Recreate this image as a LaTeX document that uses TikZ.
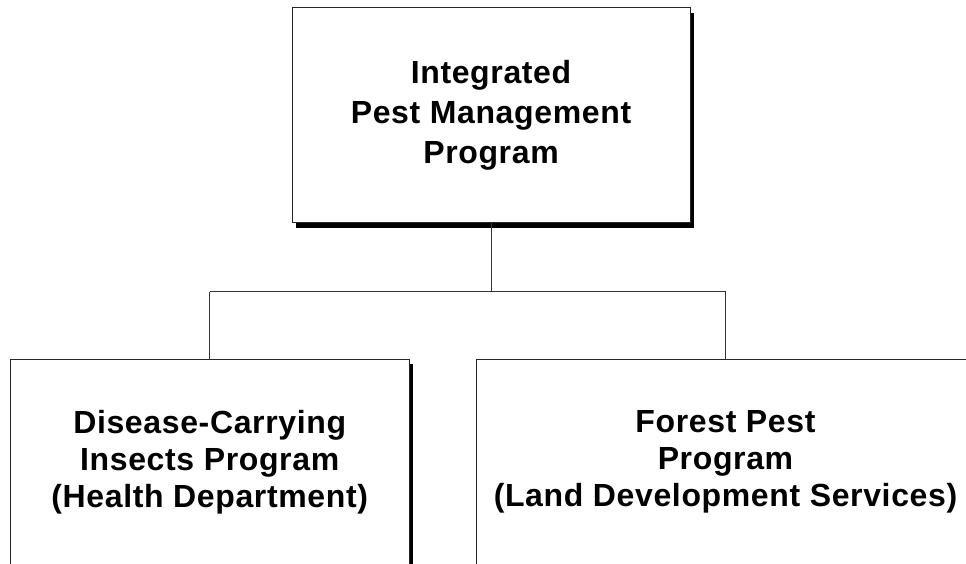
\documentclass[tikz,border=0pt]{standalone}
\usepackage{fontspec}
\newfontfamily\boxfont{Liberation Sans}[LetterSpace=2]
\usetikzlibrary{positioning}
\usetikzlibrary{shadows}
\usetikzlibrary{calc}

\tikzset{
  orgbox/.style={draw=black!85, line width=1pt, fill=white, align=center, inner sep=0pt},
  orgshadow/.style={drop shadow={shadow xshift=4pt, shadow yshift=-5pt, fill=black, opacity=1}},
  link/.style={draw=black!80, line width=0.9pt}
}

\begin{document}
\begin{tikzpicture}[x=1pt, y=-1pt]
 			% Fix the frame to the size of the chart
 			\useasboundingbox (0,0) rectangle (966,563);
 			\clip (0,0) rectangle (966,563);

 			% Top of the chart
 			\node[orgbox, orgshadow, minimum width=398pt, minimum height=215pt,
 			      font=\boxfont\bfseries\fontsize{32}{40}\selectfont] (ipm) at (491,115)
 			      {Integrated\\Pest Management\\Program};

 			% The two programs below it
 			\node[orgbox, orgshadow, minimum width=399pt, minimum height=206pt,
 			      font=\boxfont\bfseries\fontsize{32}{37}\selectfont] (dci) at (209.7,462.3)
 			      {Disease-Carrying\\Insects Program\\(Health Department)};
 			\node[orgbox, orgshadow, minimum width=499pt, minimum height=206pt,
 			      font=\boxfont\bfseries\fontsize{32}{37}\selectfont] (fpp) at (725.5,462.3)
 			      {Forest Pest\\Program\\(Land Development Services)};

 			% Connectors
 			\coordinate (split) at (491,291.7);
 			\draw[link] (ipm.south) -- (split);
 			\draw[link] (dci.north |- split) -- (fpp.north |- split);
 			\foreach \b in {dci,fpp}
 			    {\draw[link] (\b.north |- split) -- (\b.north);}
\end{tikzpicture}
\end{document}
